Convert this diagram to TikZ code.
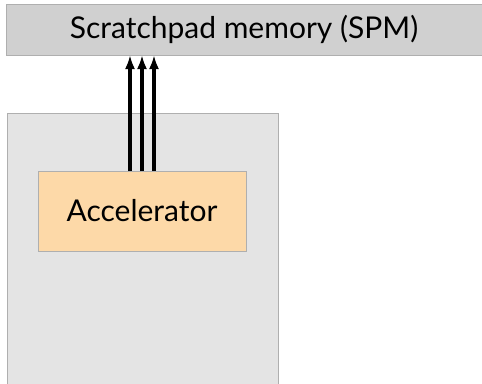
\documentclass[tikz,border=0pt]{standalone}
\usepackage{fontspec}
\setmainfont{Lato}
\usetikzlibrary{arrows.meta}
\definecolor{spmgray}{RGB}{208,208,208}
\definecolor{hostgray}{RGB}{228,228,228}
\definecolor{accorange}{RGB}{253,217,168}
\definecolor{edgegray}{RGB}{175,175,175}
\begin{document}
\begin{tikzpicture}[x=1pt,y=-1pt,
  blk/.style={draw=edgegray,line width=0.8pt,inner sep=0pt,outer sep=0pt,
              font=\fontsize{30}{34}\selectfont},
  bus/.style={line width=3.2pt,-{Latex[length=14pt,width=10pt]}}]
\useasboundingbox (0,0) rectangle (482,383);
\fill[white] (0,0) rectangle (482,383);
% host region (extends past lower edge)
\path[blk,fill=hostgray] (7,113) rectangle (278,390);
% scratchpad memory bar
\node[blk,fill=spmgray,minimum width=476pt,minimum height=51pt,anchor=north west]
  (spm) at (6,4) {Scratchpad memory (SPM)};
% accelerator block
\node[blk,fill=accorange,minimum width=208pt,minimum height=80pt,anchor=north west]
  (acc) at (38,171) {Accelerator};
% three data lines to the memory
\foreach \dx in {-12,0,12}
  \draw[bus] ([xshift=\dx pt]acc.north) -- ([xshift=\dx pt]acc.north |- spm.south);
\end{tikzpicture}
\end{document}
